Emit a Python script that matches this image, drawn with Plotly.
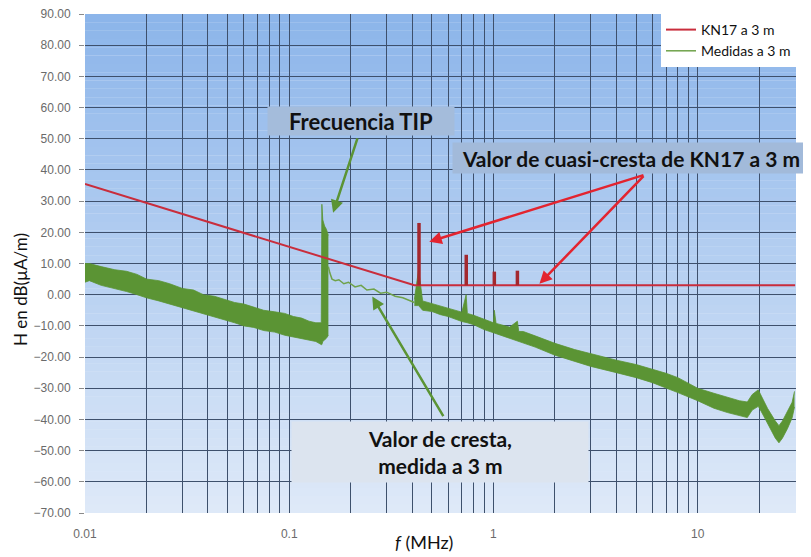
import math
import plotly.graph_objects as go

# ---------------- data ----------------
# KN17 limit at 3 m (dB(uA/m)) vs frequency (MHz)
kn17_f = [0.01, 0.41, 30.0]
kn17_db = [35.5, 3.0, 3.0]

# quasi-peak values of KN17 (spikes)
qp_f = [0.432, 0.736, 1.01, 1.31]
qp_db = [23.0, 12.8, 7.4, 7.7]

# measured at 3 m – noisy band below TIP frequency (incl. TIP peak)
meas_a_f = [0.0100, 0.0105, 0.012, 0.014, 0.016, 0.018, 0.020, 0.023, 0.026, 0.030,
            0.034, 0.038, 0.043, 0.048, 0.054, 0.060, 0.067, 0.075, 0.085, 0.095,
            0.105, 0.115, 0.125, 0.135, 0.1435, 0.1445, 0.146, 0.149, 0.152, 0.1555]
meas_a_hi = [10.0, 10.0, 9.0, 8.0, 7.5, 6.5, 5.0, 4.5, 3.5, 2.0,
             1.5, 0.0, -0.5, -1.5, -2.5, -3.0, -4.0, -5.0, -5.5, -6.0,
             -7.0, -7.5, -8.5, -9.0, -9.0, 29.0, 24.0, 22.0, 21.0, 19.0]
meas_a_lo = [4.0, 4.5, 3.0, 2.0, 1.0, 0.0, -1.0, -2.0, -3.0, -4.0,
             -5.0, -6.0, -7.0, -8.0, -9.0, -10.0, -10.5, -11.5, -12.0, -13.0,
             -13.5, -14.0, -14.5, -15.0, -16.0, -16.0, -15.0, -14.5, -14.0, -13.0]

# measured at 3 m – thin trace just above TIP frequency
meas_t_f = [0.1555, 0.158, 0.162, 0.168, 0.175, 0.185, 0.195, 0.21, 0.225, 0.24,
            0.26, 0.28, 0.30, 0.33, 0.36, 0.39, 0.41]
meas_t_db = [9.0, 7.0, 5.0, 4.5, 4.8, 3.5, 4.0, 2.5, 3.0, 1.5,
             1.8, 0.5, 0.8, -0.5, -1.0, -2.0, -2.5]

# measured at 3 m – noisy band above 0.41 MHz
meas_b_f = [0.41, 0.43, 0.45, 0.50, 0.55, 0.60, 0.70, 0.735, 0.745, 0.80,
            0.90, 1.0, 1.01, 1.03, 1.2, 1.31, 1.33, 1.4, 1.6, 2.0,
            2.5, 3.0, 4.0, 5.0, 6.0, 7.0, 8.0, 10.0, 12.0, 14.0,
            16.0, 17.5, 18.5, 19.8, 20.5, 22.0, 24.0, 25.0, 26.0, 27.5,
            29.0, 29.8]
meas_b_hi = [-1.5, 8.0, -2.0, -2.8, -3.7, -4.2, -5.6, 0.0, -6.0, -6.6,
             -8.0, -9.0, -5.0, -9.2, -10.4, -8.5, -11.8, -11.8, -13.2, -15.6,
             -17.6, -19.0, -21.0, -22.4, -23.8, -25.2, -26.6, -30.0, -31.6, -33.0,
             -34.0, -34.4, -32.0, -30.5, -32.5, -36.5, -40.5, -42.0, -40.5, -37.5,
             -34.5, -31.0]
meas_b_lo = [-3.5, -3.5, -5.0, -5.4, -6.4, -7.0, -8.6, -8.8, -9.0, -9.6,
             -11.2, -12.2, -12.3, -12.4, -13.8, -14.8, -15.0, -15.4, -16.8, -19.4,
             -21.4, -23.0, -25.0, -26.6, -28.2, -29.8, -31.4, -34.0, -36.4, -37.8,
             -38.8, -39.4, -37.0, -35.8, -37.5, -41.5, -46.0, -47.5, -46.0, -43.0,
             -39.5, -36.0]

# axis ticks
x_tick_vals = [0.01, 0.1, 1, 10]
x_tick_text = ["0.01", "0.1", "1", "10"]
x_minor_vals = [m * d for d in (0.01, 0.1, 1) for m in range(2, 10)] + [20, 30]
y_tick_vals = list(range(-70, 100, 10))

# ---------------- styling ----------------
GREEN = "#5B9434"
GREEN_THIN = "#6FA24A"
RED = "#C92D3C"
RED_DARK = "#A3282E"
GRID = "#3E506C"

OFF = 8                      # page body margin in the browser
SW, SH = 811, 557            # window size
W, H = SW - OFF, SH - OFF    # figure size so that it fits the window
PL, PR, PT, PB = 85, 796, 14, 513   # plot area in window pixels
L, R, T, B = PL - OFF, W - (PR - OFF), PT - OFF, H - (PB - OFF)
PW, PH = PR - PL, PB - PT


def px_x(p):
    return (p - PL) / PW


def px_y(p):
    return (PB - p) / PH


fig = go.Figure()

# band A
fig.add_trace(go.Scatter(x=meas_a_f, y=meas_a_lo, mode="lines",
                         line=dict(color=GREEN, width=0.8), showlegend=False,
                         hoverinfo="skip"))
fig.add_trace(go.Scatter(x=meas_a_f, y=meas_a_hi, mode="lines", fill="tonexty",
                         fillcolor=GREEN, line=dict(color=GREEN, width=0.8),
                         showlegend=False, hoverinfo="skip"))
# band B
fig.add_trace(go.Scatter(x=meas_b_f, y=meas_b_lo, mode="lines",
                         line=dict(color=GREEN, width=0.8), showlegend=False,
                         hoverinfo="skip"))
fig.add_trace(go.Scatter(x=meas_b_f, y=meas_b_hi, mode="lines", fill="tonexty",
                         fillcolor=GREEN, line=dict(color=GREEN, width=0.8),
                         showlegend=False, hoverinfo="skip"))

# KN17 limit
fig.add_trace(go.Scatter(x=kn17_f, y=kn17_db, mode="lines", name="KN17 a 3 m",
                         line=dict(color=RED, width=2), legendrank=1))
# thin measured trace (carries the legend entry)
fig.add_trace(go.Scatter(x=meas_t_f, y=meas_t_db, mode="lines", name="Medidas a 3 m",
                         line=dict(color=GREEN_THIN, width=1.5), legendrank=2))

# quasi-peak spikes
sx, sy = [], []
for f, v in zip(qp_f, qp_db):
    sx += [f, f, None]
    sy += [kn17_db[-1], v, None]
fig.add_trace(go.Scatter(x=sx, y=sy, mode="lines", line=dict(color=RED_DARK, width=3.5),
                         showlegend=False, hoverinfo="skip"))

# background gradient (plot area)
top = (0x8C, 0xB5, 0xEA)
bot = (0xDE, 0xE9, 0xF8)
N = 60
shapes = []
for i in range(N):
    t = i / (N - 1)
    c = tuple(round(top[k] + (bot[k] - top[k]) * t) for k in range(3))
    shapes.append(dict(type="rect", xref="x domain", yref="y domain",
                       x0=0, x1=1, y0=1 - (i + 1) / N, y1=1 - i / N,
                       fillcolor="rgb(%d,%d,%d)" % c, line=dict(width=0),
                       layer="below"))

ann = []
BOX = dict(xref="paper", yref="paper", showarrow=False, borderpad=0,
           xanchor="center", yanchor="middle")
# text boxes
ann.append(dict(BOX, x=px_x(361), y=px_y(121),
                text="<b>Frecuencia TIP</b>", width=186, height=28,
                bgcolor="#A4BCDB",
                font=dict(family="Lato", size=22, color="#111111")))
ann.append(dict(BOX, x=px_x(631), y=px_y(158),
                text="<b>Valor de cuasi-cresta de KN17 a 3 m</b>",
                width=356, height=30, bgcolor="#A2BADA",
                font=dict(family="Lato", size=21, color="#111111")))
ann.append(dict(BOX, x=px_x(440), y=px_y(452),
                text="<b>Valor de cresta,<br>medida a 3 m</b>",
                width=296, height=60, bgcolor="#DCE4EF",
                font=dict(family="Lato", size=21, color="#111111")))


def arrow(xh, yh, xt, yt, color):
    return dict(xref="x", yref="y", axref="x", ayref="y",
                x=math.log10(xh), y=yh, ax=math.log10(xt), ay=yt, text="",
                showarrow=True, arrowhead=2, arrowsize=1, arrowwidth=2.5,
                arrowcolor=color)


ann.append(arrow(0.164, 26.3, 0.217, 50.6, GREEN))
ann.append(arrow(0.255, -0.6, 0.574, -39.4, GREEN))
ann.append(arrow(0.485, 17.0, 5.52, 38.5, "#E3242F"))
ann.append(arrow(1.68, 3.5, 5.52, 38.5, "#E3242F"))

# axis titles as annotations
ann.append(dict(BOX, x=px_x(424), y=px_y(542),
                text="<i>f</i> (MHz)",
                font=dict(family="Lato", size=18, color="#111111")))
ann.append(dict(BOX, x=px_x(20), y=px_y(290),
                text="H en dB(µA/m)", textangle=-90,
                font=dict(family="Lato", size=17, color="#111111")))

TICKFONT = dict(family="Liberation Sans", size=12, color="#6A6A6A")

fig.update_layout(
    width=W, height=H,
    margin=dict(l=L, r=R, t=T, b=B, pad=0, autoexpand=False),
    paper_bgcolor="white", plot_bgcolor="#DEE9F8",
    shapes=shapes, annotations=ann,
    showlegend=True,
    legend=dict(x=1, y=1, xanchor="right", yanchor="top", bgcolor="white",
                borderwidth=0, font=dict(family="Lato", size=14, color="#111111"),
                tracegroupgap=0, itemwidth=30, traceorder="normal"),
    xaxis=dict(type="log", range=[math.log10(0.01), math.log10(30.3)],
               tickvals=x_tick_vals, ticktext=x_tick_text, ticks="",
               showgrid=True, gridcolor=GRID, gridwidth=1.3,
               minor=dict(tickvals=x_minor_vals, showgrid=True, gridcolor=GRID,
                          gridwidth=1.3, ticks=""),
               tickfont=TICKFONT, ticklabelstandoff=12, ticklabeloverflow="allow",
               zeroline=False, showline=False),
    yaxis=dict(range=[-70, 90], tickvals=y_tick_vals, tickformat=".2f",
               ticks="outside", ticklen=5, tickcolor="#8A8A8A",
               showgrid=True, gridcolor=GRID, gridwidth=1.3,
               tickfont=TICKFONT, ticklabelstandoff=6, ticklabeloverflow="allow",
               zeroline=False, showline=False),
)

fig.write_html("out.html")
